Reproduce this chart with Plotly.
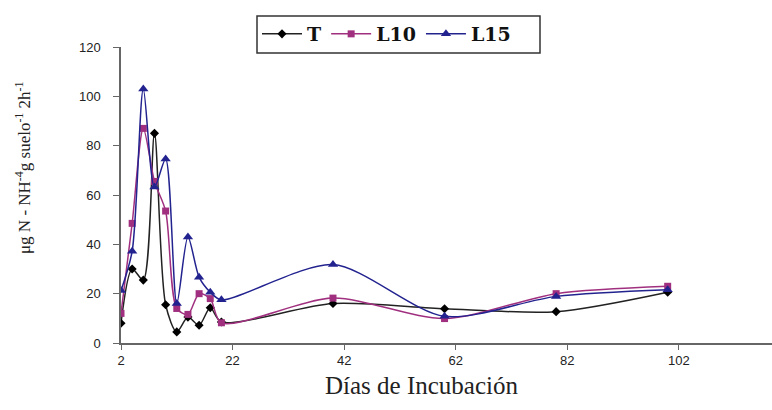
import plotly.graph_objects as go

days = [2, 4, 6, 8, 10, 12, 14, 16, 18, 20, 40, 60, 80, 100]
T = [8, 30, 25.5, 85, 15.5, 4.5, 10.5, 7.2, 14.3, 8.5, 16, 13.9, 12.7, 20.6]
L10 = [12, 48.5, 87, 65.5, 53.5, 14, 11.6, 20, 18, 8.2, 18.2, 9.9, 20, 23]
L15 = [21.3, 37.2, 103, 63.2, 74.6, 16, 43, 26.7, 20.6, 17.5, 31.8, 10.8, 18.9, 21.6]

series = [
    ("T", T, "#222222", "#000000", "diamond", 7),
    ("L10", L10, "#A0307F", "#A0307F", "square", 7),
    ("L15", L15, "#232390", "#232390", "triangle-up", 9),
]

fig = go.Figure()
for name, vals, lc, mc, sym, ms in series:
    fig.add_trace(go.Scatter(
        x=days, y=vals, name=name, mode="lines+markers",
        line=dict(color=lc, width=1.5, shape="spline", smoothing=0.8),
        marker=dict(symbol=sym, size=ms, color=mc),
    ))

W, H = 772, 410
L, T_, B = 121, 47, 67
pw, ph = W - L, H - T_ - B


def px_x(x):
    return (x - L) / pw


def px_y(y):
    return (H - B - y) / ph


fig.update_layout(
    width=W, height=H,
    margin=dict(l=L, r=0, t=T_, b=B, autoexpand=False),
    paper_bgcolor="white", plot_bgcolor="white",
    showlegend=True,
    legend=dict(
        orientation="h", xref="container", yref="container",
        x=257 / W, y=1 - 15 / H, xanchor="left", yanchor="top",
        borderwidth=0, bgcolor="rgba(0,0,0,0)",
        font=dict(family="DejaVu Serif", size=19, color="#111111", weight="bold"),
        itemwidth=40, tracegroupgap=0,
    ),
    shapes=[
        dict(type="rect", xref="paper", yref="paper",
             x0=px_x(257), x1=px_x(540), y0=px_y(53), y1=px_y(16),
             line=dict(color="#333333", width=1.5), fillcolor="rgba(0,0,0,0)", layer="above"),
    ],
    xaxis=dict(
        range=[2, 118.7], tickmode="array", tickvals=[2, 22, 42, 62, 82, 102],
        showgrid=False, zeroline=False, showline=True, linecolor="#666666", linewidth=1.5,
        ticks="outside", ticklen=5, tickcolor="#666666",
        tickfont=dict(family="Liberation Sans", size=13, color="#222222"),
    ),
    yaxis=dict(
        range=[0, 120], tickmode="array", tickvals=[0, 20, 40, 60, 80, 100, 120],
        showgrid=False, zeroline=False, showline=True, linecolor="#666666", linewidth=1.5,
        ticks="outside", ticklen=6, tickcolor="#666666",
        tickfont=dict(family="Liberation Sans", size=13, color="#222222"),
        ticklabelstandoff=10,
    ),
    annotations=[
        dict(text="Días de Incubación", xref="paper", yref="paper",
             x=px_x(421), y=px_y(385), xanchor="center", yanchor="middle",
             showarrow=False,
             font=dict(family="Liberation Serif", size=25, color="#222222")),
        dict(text="μg N - NH<sup>-4</sup>g suelo<sup>-1</sup> 2h<sup>-1</sup>",
             xref="paper", yref="paper",
             x=px_x(23), y=px_y(168), xanchor="center", yanchor="middle",
             textangle=-90, showarrow=False,
             font=dict(family="Liberation Serif", size=17, color="#222222")),
    ],
)

fig.write_html("out.html", config={"displayModeBar": False},
               post_script="document.body.style.margin='0';")
